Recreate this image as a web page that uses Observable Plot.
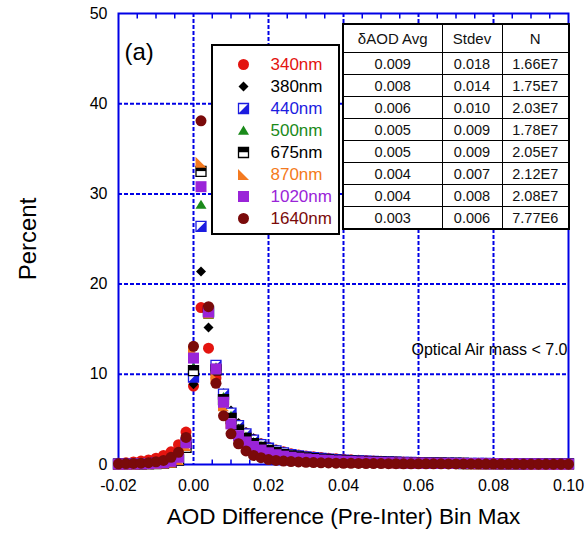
<!DOCTYPE html>
<html><head><meta charset="utf-8">
<script src="https://cdn.jsdelivr.net/npm/d3@7"></script>
<script src="https://cdn.jsdelivr.net/npm/@observablehq/plot@0.6"></script>
<style>
body{margin:0;background:#fff;font-family:"Liberation Sans",Arial,sans-serif;}
#wrap{position:relative;width:587px;height:546px;overflow:hidden;}
#legend{position:absolute;left:211px;top:44px;width:129px;height:191px;box-sizing:border-box;border:2px solid #000;background:#fff;}
#legend svg{display:block}
#tbl{position:absolute;left:342px;top:23px;width:226px;border-collapse:collapse;table-layout:fixed;background:#fff;font-size:14.5px;color:#111;border:2px solid #000;}
#tbl td{border:1.5px solid #000;text-align:center;padding:0;height:21px;line-height:16px;}
#tbl tr.h td{height:27px;font-size:15px;}
</style></head>
<body><div id="wrap"></div>
<script>
const binMax = [-0.020,-0.018,-0.016,-0.014,-0.012,-0.010,-0.008,-0.006,-0.004,-0.002,
 0.000,0.002,0.004,0.006,0.008,0.010,0.012,0.014,0.016,0.018,0.020,0.022,0.024,0.026,0.028,0.030,0.032,0.034,0.036,0.038,0.040,
 0.042,0.044,0.046,0.048,0.050,0.052,0.054,0.056,0.058,0.060,
 0.062,0.064,0.066,0.068,0.070,0.072,0.074,0.076,0.078,0.080,
 0.082,0.084,0.086,0.088,0.090,0.092,0.094,0.096,0.098,0.100];

const v340 = [0.15,0.2,0.28,0.38,0.5,0.7,1.0,1.4,2.2,3.6,
 8.7,17.4,12.9,9.6,7.3,5.6,4.4,3.5,2.8,2.3,1.9,1.6,1.4,1.2,1.05,0.95,0.85,0.78,0.7,0.64,0.58,
 0.52,0.48,0.44,0.4,0.37,0.34,0.31,0.28,0.26,0.24,
 0.22,0.2,0.19,0.18,0.17,0.16,0.15,0.14,0.13,0.12,
 0.11,0.11,0.1,0.1,0.1,0.09,0.09,0.09,0.08,0.08];
const v380 = [0.08,0.1,0.12,0.15,0.2,0.28,0.4,0.65,1.2,2.5,
 8.9,21.4,15.2,10.6,7.9,6.0,4.6,3.6,2.9,2.35,1.95,1.65,1.4,1.2,1.05,0.92,0.82,0.74,0.67,0.61,0.55,
 0.5,0.46,0.42,0.38,0.35,0.32,0.29,0.27,0.25,0.23,
 0.21,0.19,0.18,0.17,0.16,0.15,0.14,0.13,0.12,0.11,
 0.11,0.1,0.1,0.09,0.09,0.09,0.08,0.08,0.08,0.07];
const v440 = [0.05,0.05,0.06,0.07,0.09,0.12,0.18,0.3,0.7,2.3,
 9.7,26.4,16.9,11.0,7.8,5.7,4.3,3.4,2.7,2.2,1.8,1.5,1.28,1.1,0.96,0.85,0.75,0.67,0.6,0.54,0.49,
 0.44,0.4,0.36,0.33,0.3,0.28,0.26,0.24,0.22,0.2,
 0.19,0.17,0.16,0.15,0.14,0.13,0.12,0.12,0.11,0.1,
 0.1,0.09,0.09,0.08,0.08,0.08,0.07,0.07,0.07,0.06];
const v500 = [0.05,0.05,0.06,0.07,0.09,0.12,0.17,0.28,0.6,2.2,
 10.8,28.8,16.6,10.8,7.5,5.4,4.0,3.1,2.5,2.05,1.7,1.42,1.2,1.04,0.9,0.8,0.7,0.62,0.56,0.5,0.45,
 0.41,0.37,0.34,0.31,0.28,0.26,0.24,0.22,0.2,0.19,
 0.17,0.16,0.15,0.14,0.13,0.12,0.11,0.11,0.1,0.1,
 0.09,0.09,0.08,0.08,0.08,0.07,0.07,0.07,0.06,0.06];
const v675 = [0.05,0.05,0.06,0.07,0.09,0.11,0.16,0.25,0.5,1.9,
 10.4,32.5,17.0,10.5,7.2,5.1,3.8,2.9,2.3,1.9,1.55,1.3,1.1,0.95,0.83,0.73,0.64,0.57,0.51,0.46,0.41,
 0.37,0.34,0.31,0.28,0.26,0.24,0.22,0.2,0.18,0.17,
 0.16,0.15,0.14,0.13,0.12,0.11,0.1,0.1,0.09,0.09,
 0.08,0.08,0.08,0.07,0.07,0.07,0.06,0.06,0.06,0.06];
const v870 = [0.05,0.05,0.06,0.07,0.09,0.11,0.16,0.25,0.55,2.1,
 12.6,33.5,16.8,9.6,6.5,4.6,3.4,2.6,2.05,1.65,1.35,1.12,0.95,0.82,0.71,0.62,0.55,0.49,0.44,0.39,0.35,
 0.32,0.29,0.26,0.24,0.22,0.2,0.18,0.17,0.16,0.15,
 0.14,0.13,0.12,0.11,0.1,0.1,0.09,0.09,0.08,0.08,
 0.08,0.07,0.07,0.07,0.06,0.06,0.06,0.06,0.05,0.05];
const v1020 = [0.05,0.06,0.07,0.08,0.1,0.14,0.2,0.35,0.8,2.4,
 11.8,30.8,16.9,10.6,6.9,4.5,3.2,2.5,2.0,1.6,1.3,1.08,0.92,0.8,0.7,0.62,0.55,0.49,0.44,0.4,0.36,
 0.33,0.3,0.27,0.25,0.23,0.21,0.19,0.18,0.17,0.16,
 0.15,0.14,0.13,0.12,0.11,0.11,0.1,0.1,0.09,0.09,
 0.08,0.08,0.08,0.07,0.07,0.07,0.06,0.06,0.06,0.06];
const v1640 = [0.08,0.1,0.12,0.15,0.2,0.3,0.45,0.8,1.35,3.0,
 13.1,38.1,17.5,9.0,5.4,3.4,2.3,1.5,1.0,0.75,0.55,0.45,0.38,0.32,0.28,0.24,0.21,0.19,0.17,0.15,0.14,
 0.13,0.12,0.11,0.1,0.1,0.09,0.09,0.08,0.08,0.08,
 0.07,0.07,0.07,0.06,0.06,0.06,0.06,0.05,0.05,0.05,
 0.05,0.05,0.05,0.04,0.04,0.04,0.04,0.04,0.04,0.04];

const seriesNames = ["340nm","380nm","440nm","500nm","675nm","870nm","1020nm","1640nm"];
const seriesValues = [v340,v380,v440,v500,v675,v870,v1020,v1640];

const xTicks = [-0.02,0.00,0.02,0.04,0.06,0.08,0.10];
const yTicks = [0,10,20,30,40,50];
const xGrid = [0.00,0.02,0.04,0.06,0.08];
const yGrid = [10,20,30,40];
const xMinor = [-0.015,-0.01,-0.005,0.005,0.01,0.015,0.025,0.03,0.035,0.045,0.05,0.055,0.065,0.07,0.075,0.085,0.09,0.095];

const tblHead = ["\u03b4AOD Avg","Stdev","N"];
const tblAvg = ["0.009","0.008","0.006","0.005","0.005","0.004","0.004","0.003"];
const tblStdev = ["0.018","0.014","0.010","0.009","0.009","0.007","0.008","0.006"];
const tblN = ["1.66E7","1.75E7","2.03E7","1.78E7","2.05E7","2.12E7","2.08E7","7.77E6"];

// ---- styles ----
const FONT = '"Liberation Sans", Arial, sans-serif';
const BLUE = "#0000e6";
const colors = {"340nm":"#e3140f","380nm":"#000000","440nm":"#1c1ce0","500nm":"#1a8a1a",
  "675nm":"#000000","870nm":"#f47a20","1020nm":"#9a24d8","1640nm":"#7a0a0a"};

const mk = f => ({draw(ctx, size){ f(ctx, Math.sqrt(size / Math.PI)); }});
const poly = pts => mk((c,h) => { pts.forEach(([a,b],i) => i ? c.lineTo(a*h,b*h) : c.moveTo(a*h,b*h)); c.closePath(); });
const symSquare = poly([[-1,-1],[1,-1],[1,1],[-1,1]]);
const symLR = poly([[1,-1],[1,1],[-1,1]]);
const symTopHalf = poly([[-1,-1],[1,-1],[1,-0.05],[-1,-0.05]]);
const symDiamond = poly([[0,-1],[1,0],[0,1],[-1,0]]);
const symTri = poly([[0,-0.9],[1,0.75],[-1,0.75]]);
const symRT = poly([[-1,-1],[1,1],[-1,1]]);
const tickUp = {draw(c){ c.moveTo(0,0); c.lineTo(0,-5); }};
const tickDown = {draw(c){ c.moveTo(0,0); c.lineTo(0,5); }};

function seriesMarks(name, data, pos) {
  const col = colors[name];
  const o = (extra) => Object.assign({}, pos, extra);
  switch (name) {
    case "340nm": return [Plot.dot(data, o({symbol:"circle", r:5.5, fill:col, stroke:"none"}))];
    case "380nm": return [Plot.dot(data, o({symbol:symDiamond, r:5, fill:col, stroke:"none"}))];
    case "440nm": return [Plot.dot(data, o({symbol:symSquare, r:5, fill:"#fff", stroke:col, strokeWidth:1.3})),
                          Plot.dot(data, o({symbol:symLR, r:5, fill:col, stroke:"none"}))];
    case "500nm": return [Plot.dot(data, o({symbol:symTri, r:5.5, fill:col, stroke:"none"}))];
    case "675nm": return [Plot.dot(data, o({symbol:symSquare, r:5, fill:"#fff", stroke:col, strokeWidth:1.3})),
                          Plot.dot(data, o({symbol:symTopHalf, r:5, fill:col, stroke:"none"}))];
    case "870nm": return [Plot.dot(data, o({symbol:symRT, r:5.5, fill:col, stroke:"none"}))];
    case "1020nm": return [Plot.dot(data, o({symbol:symSquare, r:5.5, fill:col, stroke:"none"}))];
    case "1640nm": return [Plot.dot(data, o({symbol:"circle", r:5.5, fill:col, stroke:"none"}))];
  }
}

const pointMarks = seriesNames.flatMap((name, k) => {
  const data = binMax.map((x, i) => ({x, y: seriesValues[k][i]}));
  return seriesMarks(name, data, {x: "x", y: "y"});
});

const chart = Plot.plot({
  width: 587, height: 546,
  marginTop: 13, marginRight: 19, marginBottom: 82, marginLeft: 118,
  x: {domain: [-0.02, 0.10]},
  y: {domain: [0, 50]},
  style: {fontFamily: FONT, fontSize: "16px", color: "#000", background: "#fff", overflow: "visible"},
  marks: [
    Plot.ruleX(xGrid, {x: d => d, stroke: BLUE, strokeWidth: 2, strokeDasharray: "4,2"}),
    Plot.ruleY(yGrid, {y: d => d, stroke: BLUE, strokeWidth: 2, strokeDasharray: "4,2"}),
    Plot.dot(xMinor, {x: d => d, y: 0, symbol: tickUp, stroke: BLUE, strokeWidth: 1.5, fill: "none"}),
    Plot.dot(xMinor, {x: d => d, y: 50, symbol: tickDown, stroke: BLUE, strokeWidth: 1.5, fill: "none"}),
    Plot.frame({stroke: BLUE, strokeWidth: 2}),
    Plot.axisX(xTicks, {tickSize: 0, tickPadding: 15, tickFormat: d => d.toFixed(2), label: null, fontSize: 16}),
    Plot.axisY(yTicks, {tickSize: 0, tickPadding: 11, label: null, fontSize: 16}),
    ...pointMarks,
    Plot.text(["Percent"], {text: d => d, frameAnchor: "left", dx: -90, rotate: -90, textAnchor: "middle", fontSize: 24}),
    Plot.text(["AOD Difference (Pre-Inter) Bin Max"], {text: d => d, frameAnchor: "bottom", dy: 59, textAnchor: "middle", fontSize: 22.5}),
    Plot.text(["(a)"], {text: d => d, frameAnchor: "top-left", dx: 6, dy: 29, textAnchor: "start", fontSize: 24}),
    Plot.text(["Optical Air mass < 7.0"], {text: d => d, frameAnchor: "top-right", dx: -1, dy: 330, textAnchor: "end", fontSize: 16})
  ]
});

const wrap = document.getElementById("wrap");
wrap.appendChild(chart);

// legend
const legendMarks = seriesNames.flatMap(name => [
  ...seriesMarks(name, [name], {y: d => d, frameAnchor: "left", dx: 30}),
  Plot.text([name], {y: d => d, text: d => d, frameAnchor: "left", dx: 57, textAnchor: "start", fill: colors[name], fontSize: 17})
]);
const legend = Plot.plot({
  width: 125, height: 187, margin: 0,
  y: {type: "point", domain: seriesNames, range: [15, 174], padding: 0, axis: null},
  style: {fontFamily: FONT, fontSize: "17px", background: "#fff", overflow: "visible"},
  marks: legendMarks
});
const lg = document.createElement("div");
lg.id = "legend";
lg.appendChild(legend);
wrap.appendChild(lg);

// table
const tbl = document.createElement("table");
tbl.id = "tbl";
const cg = document.createElement("colgroup");
[99, 60, 67].forEach(w => { const c = document.createElement("col"); c.style.width = w + "px"; cg.appendChild(c); });
tbl.appendChild(cg);
const hr = tbl.insertRow(); hr.className = "h";
tblHead.forEach(h => { hr.insertCell().textContent = h; });
tblAvg.forEach((a, i) => {
  const r = tbl.insertRow();
  r.insertCell().textContent = a;
  r.insertCell().textContent = tblStdev[i];
  r.insertCell().textContent = tblN[i];
});
wrap.appendChild(tbl);
</script>
</body></html>
